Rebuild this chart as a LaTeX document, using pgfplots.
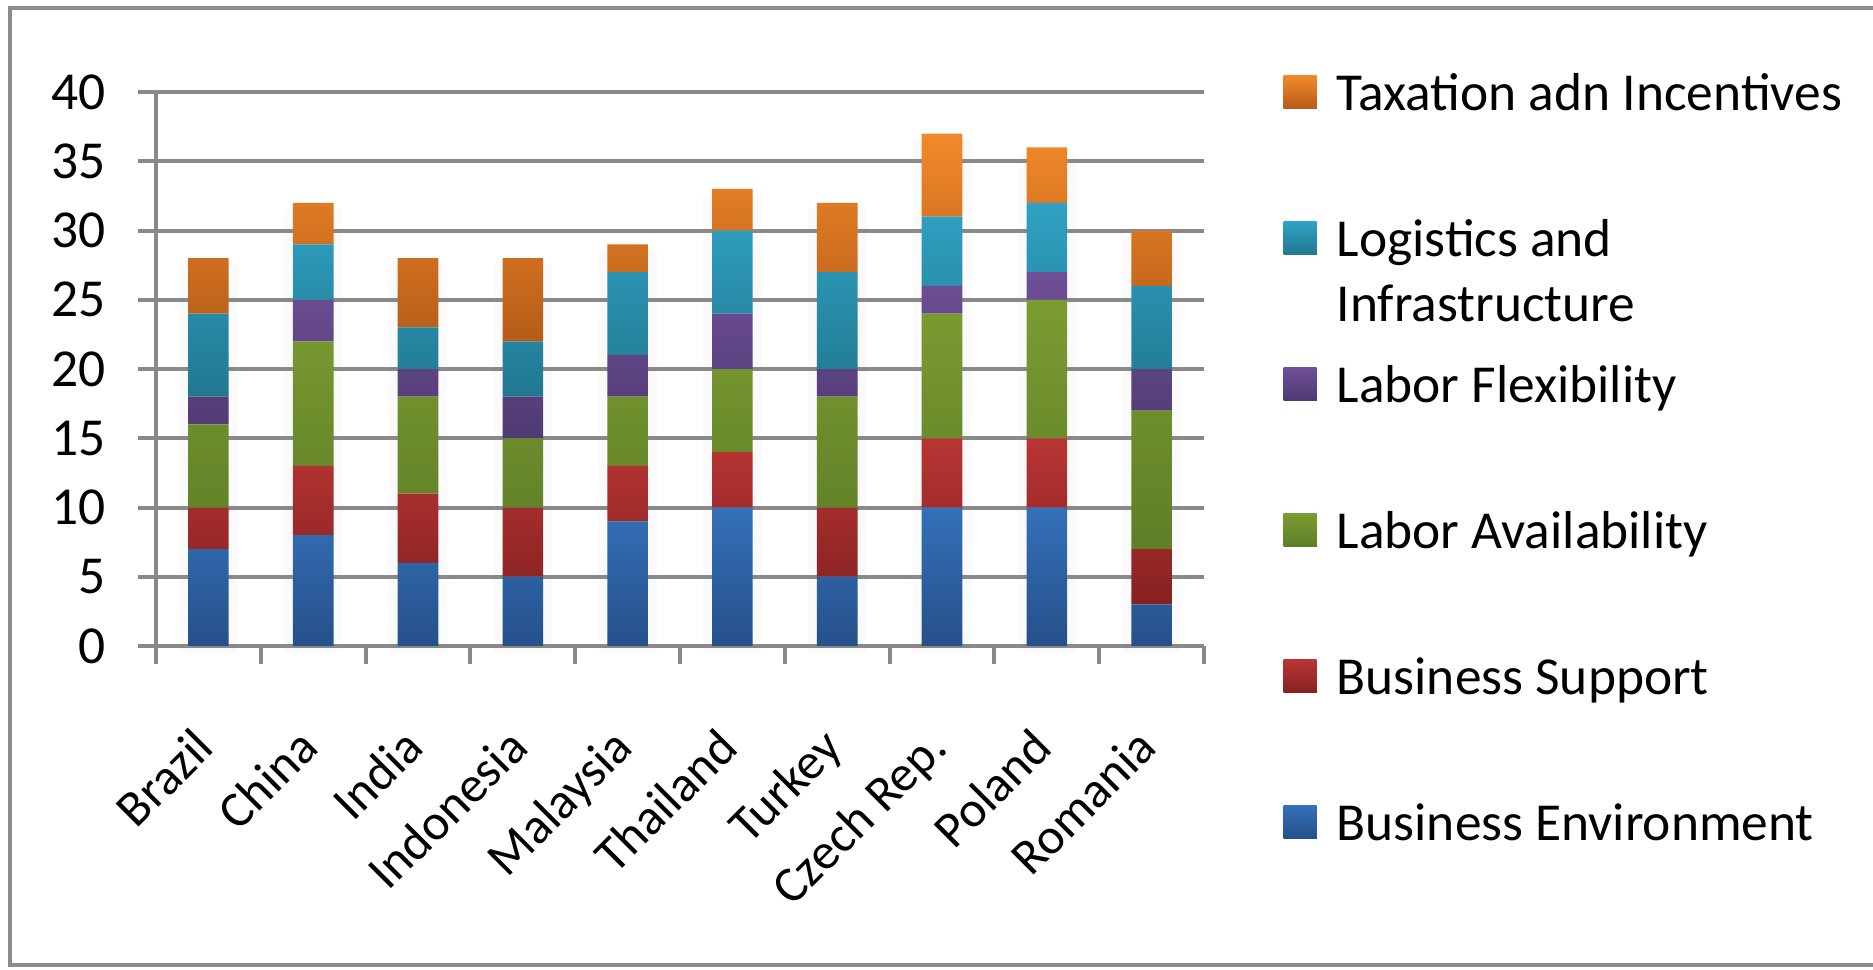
\documentclass[border=0pt]{standalone}
\usepackage{fontspec}
\setmainfont{Carlito}
\usepackage{pgfplots}
\pgfplotsset{compat=1.18}
\definecolor{gridgray}{HTML}{898989}
\definecolor{bordergray}{HTML}{8C8C8C}
\definecolor{beT}{HTML}{3470B8}\definecolor{beB}{HTML}{25508A}\definecolor{beL}{HTML}{254F87}
\definecolor{bsT}{HTML}{B83533}\definecolor{bsB}{HTML}{852121}\definecolor{bsL}{HTML}{8A2424}
\definecolor{laT}{HTML}{7B9C31}\definecolor{laB}{HTML}{5E7E27}\definecolor{laL}{HTML}{6F8F2E}
\definecolor{lfT}{HTML}{6F4F96}\definecolor{lfB}{HTML}{4F3A73}\definecolor{lfL}{HTML}{553B70}
\definecolor{lgT}{HTML}{30A2C3}\definecolor{lgB}{HTML}{217891}\definecolor{lgL}{HTML}{23788D}
\definecolor{txT}{HTML}{F2892A}\definecolor{txB}{HTML}{B65C18}\definecolor{txL}{HTML}{B45E1B}
\newcommand{\chartfont}{\fontsize{15.2}{18}\selectfont}
\newcommand{\catfont}{\fontsize{14.4}{17}\selectfont}
\begin{document}
\begin{tikzpicture}
\useasboundingbox (-15.6mm,-32.4mm) rectangle (171.7mm,64.6mm);
\fill[white] (-15.6mm,-32.4mm) rectangle (171.7mm,64.6mm);
\draw[bordergray, line width=0.35mm] (171.7mm,63.8mm) -- (-14.6mm,63.8mm) -- (-14.6mm,-31.9mm) -- (171.7mm,-31.9mm);
% soft shadows behind the bars (totals)
\begin{axis}[at={(0,-0.6mm)}, anchor=south west, scale only axis,
  width=104.8mm, height=55.4mm, xmin=-0.5, xmax=9.5, ymin=0, ymax=40,
  hide axis, clip=false, ybar, bar width=5.8mm]
\addplot[draw=none, left color=black!2, middle color=black!45, right color=black!2]
  coordinates {(0,28) (1,32) (2,28) (3,28) (4,29) (5,33) (6,32) (7,37) (8,36) (9,30)};
\end{axis}
\begin{axis}[at={(0,0)}, anchor=south west, scale only axis,
  width=104.8mm, height=55.4mm, xmin=-0.5, xmax=9.5, ymin=0, ymax=40,
  ybar stacked, bar width=4.06mm,
  axis x line*=bottom, axis y line*=left,
  axis line style={gridgray, line width=0.4mm},
  ytick={0,5,...,40}, ymajorgrids, grid style={gridgray, line width=0.4mm},
  xtick={-0.5,0.5,...,9.5}, xticklabels={},
  extra x ticks={0,1,2,3,4,5,6,7,8,9},
  extra x tick labels={Brazil,China,India,Indonesia,Malaysia,Thailand,Turkey,Czech Rep.,Poland,Romania},
  extra x tick style={grid=none, major tick length=0pt,
    xticklabel style={inner sep=0pt, font=\catfont, xshift=0.8mm, yshift=-10.4mm, rotate=45, anchor=base east}},
  tick align=outside, major tick length=1.8mm,
  tick style={gridgray, line width=0.4mm},
  yticklabel style={inner sep=0pt, anchor=east, xshift=-3.2mm, font=\chartfont},
  /pgf/number format/assume math mode=true,
  reverse legend, legend cell align=left,
  legend style={draw=none, fill=none, at={(1.0754,1.0397)}, anchor=north west,
    inner sep=0pt, row sep=10.3mm, column sep=2mm, font=\chartfont,
    nodes={inner sep=0pt, text height=4.0mm, text depth=0.3mm}},
]
\addplot[draw=none, top color=beT, bottom color=beB,
  legend image code/.code={\fill[beL] (0mm,-1.65mm) rectangle (3.3mm,1.65mm);}]
  coordinates {(0,7) (1,8) (2,6) (3,5) (4,9) (5,10) (6,5) (7,10) (8,10) (9,3)};
\addlegendentry{Business Environment}
\addplot[draw=none, top color=bsT, bottom color=bsB,
  legend image code/.code={\fill[bsL] (0mm,-1.65mm) rectangle (3.3mm,1.65mm);}]
  coordinates {(0,3) (1,5) (2,5) (3,5) (4,4) (5,4) (6,5) (7,5) (8,5) (9,4)};
\addlegendentry{Business Support}
\addplot[draw=none, top color=laT, bottom color=laB,
  legend image code/.code={\fill[laL] (0mm,-1.65mm) rectangle (3.3mm,1.65mm);}]
  coordinates {(0,6) (1,9) (2,7) (3,5) (4,5) (5,6) (6,8) (7,9) (8,10) (9,10)};
\addlegendentry{Labor Availability}
\addplot[draw=none, top color=lfT, bottom color=lfB,
  legend image code/.code={\fill[lfL] (0mm,-1.65mm) rectangle (3.3mm,1.65mm);}]
  coordinates {(0,2) (1,3) (2,2) (3,3) (4,3) (5,4) (6,2) (7,2) (8,2) (9,3)};
\addlegendentry{Labor Flexibility}
\addplot[draw=none, top color=lgT, bottom color=lgB,
  legend image code/.code={\fill[lgL] (0mm,-1.65mm) rectangle (3.3mm,1.65mm);}]
  coordinates {(0,6) (1,4) (2,3) (3,4) (4,6) (5,6) (6,7) (7,5) (8,5) (9,6)};
\addlegendentry{\makebox[0pt][l]{\smash{\raisebox{-6.5mm}{Infrastructure}}}Logistics and}
\addplot[draw=none, top color=txT, bottom color=txB,
  legend image code/.code={\fill[txL] (0mm,-1.65mm) rectangle (3.3mm,1.65mm);}]
  coordinates {(0,4) (1,3) (2,5) (3,6) (4,2) (5,3) (6,5) (7,6) (8,4) (9,4)};
\addlegendentry{Taxation adn Incentives}
\end{axis}
\end{tikzpicture}
\end{document}
